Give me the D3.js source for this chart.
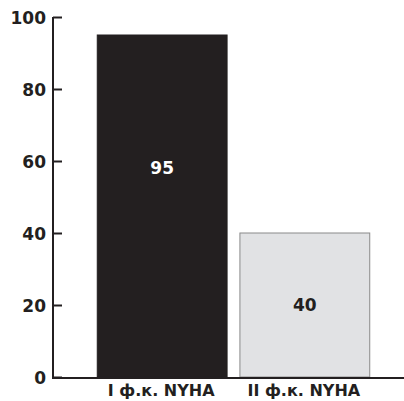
<!DOCTYPE html>
<html><head><meta charset="utf-8">
<script src="https://cdn.jsdelivr.net/npm/d3@7"></script>
<style>body{margin:0;background:#fff}text{font-family:"DejaVu Sans",sans-serif;font-weight:bold}</style>
</head><body>
<svg id="c" width="404" height="401"></svg>
<script>
const categories = ["I ф.к. NYHA", "II ф.к. NYHA"];
const values = [95, 40];
const yTicks = [0, 20, 40, 60, 80, 100];

const svg = d3.select("#c");
const x0 = 53, yTop = 17, yBot = 377;
const y = d3.scaleLinear().domain([0, 100]).range([yBot, yTop]);
const x = d3.scaleBand().domain(categories).range([83, 384]).paddingInner(0.09).paddingOuter(0.1);

const fills = ["#231f20", "#e1e2e4"];
const strokes = ["#231f20", "#8a8a8a"];
const textCol = ["#ffffff", "#231f20"];

svg.selectAll("rect.bar").data(values).join("rect")
  .attr("class", "bar")
  .attr("x", (d, i) => x(categories[i]))
  .attr("width", x.bandwidth())
  .attr("y", d => y(d))
  .attr("height", d => yBot - y(d))
  .attr("fill", (d, i) => fills[i])
  .attr("stroke", (d, i) => strokes[i])
  .attr("stroke-width", 1);

// y axis
const ax = d3.axisLeft(y).tickValues(yTicks).tickSize(-9).tickPadding(7).tickFormat(d3.format("d"));
const g = svg.append("g").attr("transform", `translate(${x0},0)`).call(ax);
g.select(".domain").attr("stroke", "#231f20").attr("stroke-width", 2).attr("d", `M0,${yTop}V${yBot}`);
g.selectAll(".tick line").attr("stroke", "#231f20").attr("stroke-width", 2);
g.selectAll(".tick text").attr("fill", "#231f20").style("font-size", "17px").attr("dy", "0.36em");

// x axis line
svg.append("line").attr("x1", x0 - 1).attr("x2", 404).attr("y1", yBot + 1).attr("y2", yBot + 1)
  .attr("stroke", "#231f20").attr("stroke-width", 2);

// category labels
svg.selectAll("text.cat").data(categories).join("text")
  .attr("class", "cat")
  .attr("x", d => x(d) + x.bandwidth() / 2 - 1)
  .attr("y", 396)
  .attr("text-anchor", "middle")
  .attr("fill", "#231f20")
  .style("font-size", "16px")
  .text(d => d);

// value labels
const labelAt = [58, 20];
svg.selectAll("text.val").data(values).join("text")
  .attr("class", "val")
  .attr("x", (d, i) => x(categories[i]) + x.bandwidth() / 2)
  .attr("y", (d, i) => y(labelAt[i]))
  .attr("dy", "0.36em")
  .attr("text-anchor", "middle")
  .attr("fill", (d, i) => textCol[i])
  .style("font-size", "17px")
  .text(d => d);
</script>
</body></html>
